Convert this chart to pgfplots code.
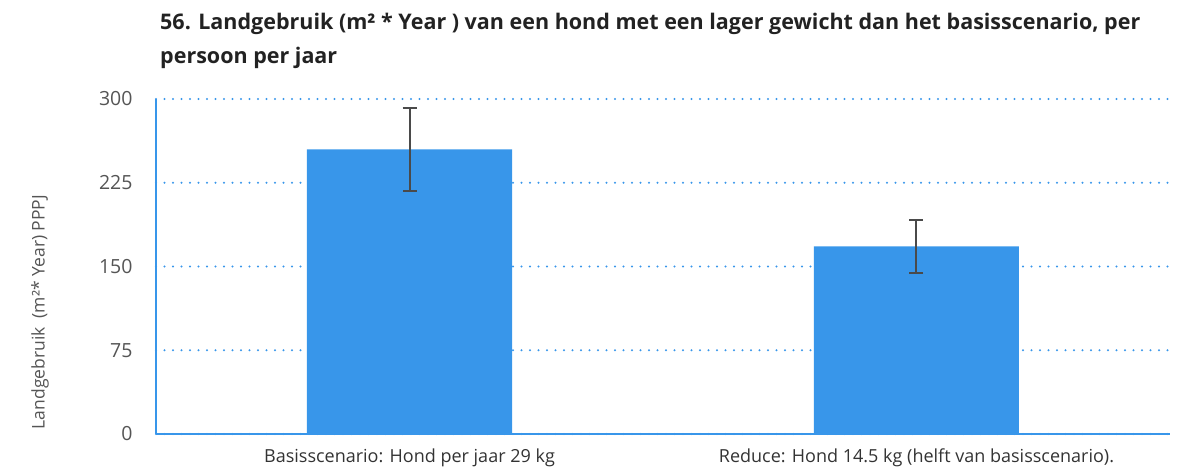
\documentclass[border=0pt]{standalone}
\usepackage{pgfplots}
\pgfplotsset{compat=1.18}
\usepackage{fontspec}
\setmainfont{Open Sans}
\definecolor{barblue}{HTML}{3896EA}
\definecolor{errgray}{HTML}{4A4A4A}
\definecolor{ticktext}{HTML}{555555}
\definecolor{labeltext}{HTML}{333333}
\definecolor{titletext}{HTML}{222222}

\begin{document}
\begin{tikzpicture}[x=1pt,y=1pt]
\path[use as bounding box] (0,0) rectangle (1182,472);

% title
\node[anchor=north west, inner sep=0pt, align=left, font=\bfseries\fontsize{21.5}{34}\selectfont, text=titletext]
  at (160,459) {56. Landgebruik (m² * Year ) van een hond met een lager gewicht dan het basisscenario, per\\persoon per jaar};

% y label
\node[rotate=90, font=\fontsize{17.5}{20}\selectfont, text=ticktext] at (40,160) {Landgebruik~~(m²* Year) PPPJ};

\begin{axis}[
  at={(156pt,38pt)}, anchor=south west,
  scale only axis, width=1014pt, height=335pt,
  xmin=-0.5, xmax=1.5, ymin=0, ymax=300,
  ybar, bar width=205pt,
  axis x line*=bottom, axis y line*=left,
  axis line style={-, draw=barblue, line width=1.5pt},
  xtick={0,1},
  xticklabels={Basisscenario: Hond per jaar 29 kg, Reduce: Hond 14.5 kg (helft van basisscenario).},
  x tick label style={font=\fontsize{18}{21}\selectfont, text=labeltext, yshift=-7pt},
  major x tick style={draw=none},
  extra x ticks={-0.5,0.5},
  extra x tick labels={},
  extra x tick style={major tick length=6pt, tick align=outside, tick style={draw=barblue, line width=1.5pt}},
  ytick={0,75,150,225,300},
  y tick label style={font=\fontsize{19.5}{21}\selectfont, text=ticktext, xshift=-20pt},
  major y tick style={draw=none},
  /pgf/number format/assume math mode=true,
  ymajorgrids,
  grid style={draw=barblue, line width=2.2pt, line cap=round, dash pattern=on 0pt off 8.5pt},
  error bars/y dir=both, error bars/y explicit,
  error bars/error bar style={draw=errgray, line width=2pt},
  error bars/error mark options={draw=errgray, rotate=90, mark size=7pt, line width=2pt},
]
\addplot[fill=barblue, draw=none] coordinates {
  (0,255) +- (0,37)
  (1,168) +- (0,24)
};
\end{axis}
\end{tikzpicture}
\end{document}
